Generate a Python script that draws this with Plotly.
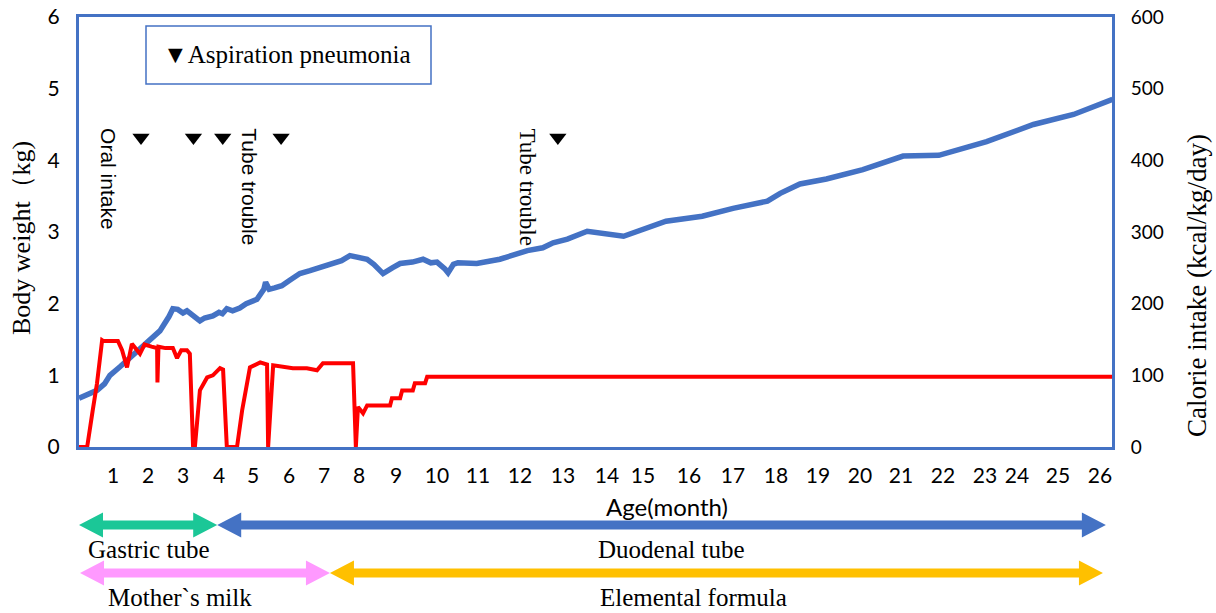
import numpy as np
import plotly.graph_objects as go

# ---------------- data ----------------
# x-axis month ticks and their (non-uniform) positions along the axis
tick_months = [0, 1, 2, 3, 4, 5, 6, 7, 8, 9, 10, 11, 12, 13, 14, 15, 16, 17, 18, 19, 20, 21, 22, 23, 24, 25, 26]
tick_axis_pos = [0, 34, 69, 104, 140, 174, 210, 245, 280, 317, 358, 399, 441, 484, 528, 564,
                 610, 654, 697, 739, 781, 822, 864, 906, 938, 979, 1021]
axis_len = 1033

# body weight (kg) vs age (months)
weight_age = [0.0, 0.2, 0.53, 0.75, 0.91, 1.2, 1.41, 1.7, 1.97, 2.34, 2.6, 2.71, 2.85, 3.0, 3.11, 3.25,
              3.47, 3.6, 3.83, 4.0, 4.1, 4.23, 4.4, 4.61, 4.8, 5.11, 5.3, 5.35, 5.45, 5.6, 5.8, 6.0,
              6.31, 6.6, 6.87, 7.2, 7.5, 7.74, 8.0, 8.22, 8.4, 8.65, 8.9, 9.1, 9.4, 9.66, 9.85,
              10.0, 10.2, 10.27, 10.4, 10.51, 10.97, 11.52, 12.17, 12.53, 12.77, 13.1, 13.55,
              14.46, 15.5, 16.3, 17.0, 17.8, 18.1, 18.57, 19.2, 20.07, 21.05, 21.9, 23.05,
              24.4, 25.37, 26.3]
weight_kg = [0.68, 0.72, 0.79, 0.88, 1.0, 1.12, 1.21, 1.33, 1.44, 1.62, 1.82, 1.93, 1.92, 1.87, 1.9, 1.84,
             1.76, 1.8, 1.83, 1.88, 1.86, 1.93, 1.9, 1.94, 2.0, 2.06, 2.2, 2.3, 2.2, 2.22, 2.25, 2.32,
             2.42, 2.46, 2.5, 2.55, 2.6, 2.67, 2.64, 2.62, 2.55, 2.42, 2.5, 2.56, 2.58, 2.62, 2.57,
             2.58, 2.48, 2.43, 2.55, 2.57, 2.56, 2.62, 2.74, 2.78, 2.85, 2.9, 3.01,
             2.94, 3.15, 3.22, 3.33, 3.43, 3.54, 3.67, 3.74, 3.87, 4.06, 4.07, 4.26,
             4.5, 4.64, 4.85]

# calorie intake (kcal/kg/day) vs age (months)
cal_age = [0.0, 0.24, 0.4, 0.53, 0.68, 0.71, 1.14, 1.26, 1.4, 1.54, 1.77, 1.9, 2.1, 2.26, 2.27, 2.3,
           2.5, 2.71, 2.83, 2.95, 3.11, 3.19, 3.28, 3.33, 3.47, 3.67, 3.83, 4.03, 4.12, 4.23, 4.53,
           4.68, 4.91, 5.2, 5.39, 5.42, 5.56, 6.11, 6.51, 6.8, 6.97, 7.83, 7.91, 7.97, 8.11, 8.22,
           8.84, 8.89, 9.1, 9.15, 9.41, 9.46, 9.71, 9.76, 26.3]
cal_kcal = [0, 0, 50, 89, 149, 148, 148, 135, 111, 144, 130, 143, 140, 138, 90, 140,
            138, 138, 124, 135, 135, 130, 0, 0, 79, 97, 100, 110, 108, 0, 0,
            51, 111, 118, 115, 0, 114, 110, 110, 107, 117, 117, 0, 56, 47, 58,
            58, 68, 68, 79, 79, 89, 89, 98, 98]

# aspiration pneumonia events
pneumonia_age = [1.8, 3.29, 4.11, 5.78, 12.88]
pneumonia_level_kg = 4.32

# event notes
note_text = ["Oral intake", "Tube trouble", "Tube trouble"]
note_age = [0.85, 4.9, 12.17]
note_kg = [3.74, 3.63, 3.63]

# feeding periods (start month, end month)
route_names = ["Gastric tube", "Duodenal tube"]
route_start = [0.0, 3.95]
route_end = [3.95, 26.14]
route_label_age = [2.0, 15.6]
food_names = ["Mother`s milk", "Elemental formula"]
food_start = [0.03, 7.17]
food_end = [7.17, 26.07]
food_label_age = [2.9, 16.1]

left_ticks = [0, 1, 2, 3, 4, 5, 6]
right_ticks = [0, 100, 200, 300, 400, 500, 600]

# ---------------- helpers ----------------
def to_pos(m):
    m = np.atleast_1d(np.asarray(m, dtype=float))
    p = np.interp(m, tick_months, tick_axis_pos)
    slope = tick_axis_pos[-1] - tick_axis_pos[-2]
    over = m > tick_months[-1]
    p[over] = tick_axis_pos[-1] + (m[over] - tick_months[-1]) * slope
    return p

BLUE = "#4472C4"
RED = "#FF0000"
SERIF = "Liberation Serif, Times New Roman, serif"
SANS = "Lato, Open Sans, sans-serif"
ARIAL = "Liberation Sans, Arial, sans-serif"

W, H = 1216, 613
ML, MR, MT, MB = 79, 104, 17, 166
PW, PH = W - ML - MR, H - MT - MB

def px_to_paper_x(px):
    return (px - ML) / PW

def px_to_paper_y(py):
    return (H - MB - py) / PH

fig = go.Figure()

fig.add_trace(go.Scatter(
    x=to_pos(weight_age), y=weight_kg, mode="lines",
    line=dict(color=BLUE, width=5.5), yaxis="y", showlegend=False, name="Body weight"))

fig.add_trace(go.Scatter(
    x=to_pos(cal_age), y=cal_kcal, mode="lines",
    line=dict(color=RED, width=4), yaxis="y2", showlegend=False, name="Calorie intake",
    cliponaxis=False))

fig.add_trace(go.Scatter(
    x=to_pos(pneumonia_age), y=[pneumonia_level_kg] * len(pneumonia_age), mode="markers",
    marker=dict(symbol="triangle-down", size=15, color="black"), yaxis="y", showlegend=False,
    name="Aspiration pneumonia"))

annotations = []
shapes = []

# notes (vertical text)
note_fonts = [ARIAL, ARIAL, SERIF]
note_sizes = [21, 21, 23]
for t, a, k, f, s in zip(note_text, note_age, note_kg, note_fonts, note_sizes):
    annotations.append(dict(x=float(to_pos(a)[0]), y=k, xref="x", yref="y", text=t, textangle=90,
                            showarrow=False, font=dict(family=f, size=s, color="black"),
                            xanchor="center", yanchor="middle"))

# legend box
shapes.append(dict(type="rect", xref="paper", yref="paper",
                   x0=px_to_paper_x(146), x1=px_to_paper_x(431),
                   y0=px_to_paper_y(84), y1=px_to_paper_y(26),
                   line=dict(color=BLUE, width=1.5), fillcolor="white", layer="above"))
annotations.append(dict(x=px_to_paper_x(161), y=px_to_paper_y(54), xref="paper", yref="paper",
                        text="▼Aspiration pneumonia", showarrow=False, xanchor="left", yanchor="middle",
                        font=dict(family=SERIF, size=25, color="black")))

# axis titles
annotations.append(dict(x=px_to_paper_x(21), y=px_to_paper_y(238), xref="paper", yref="paper",
                        text="Body weight（kg)", textangle=-90, showarrow=False,
                        xanchor="center", yanchor="middle",
                        font=dict(family=SERIF, size=26, color="black")))
annotations.append(dict(x=px_to_paper_x(1197), y=px_to_paper_y(286), xref="paper", yref="paper",
                        text="Calorie intake (kcal/kg/day)", textangle=-90, showarrow=False,
                        xanchor="center", yanchor="middle",
                        font=dict(family=SERIF, size=27, color="black")))
annotations.append(dict(x=px_to_paper_x(667), y=px_to_paper_y(506), xref="paper", yref="paper",
                        text="Age(month)", showarrow=False, xanchor="center", yanchor="middle",
                        font=dict(family=SANS, size=24, color="black")))

# arrows
HEAD_L, HEAD_H, SHAFT_H = 24, 12.5, 4.5

def arrow_path(m0, m1, ypx):
    x0 = ML + float(to_pos(m0)[0])
    x1 = ML + float(to_pos(m1)[0])
    pts = [(x0, ypx), (x0 + HEAD_L, ypx - HEAD_H), (x0 + HEAD_L, ypx - SHAFT_H),
           (x1 - HEAD_L, ypx - SHAFT_H), (x1 - HEAD_L, ypx - HEAD_H), (x1, ypx),
           (x1 - HEAD_L, ypx + HEAD_H), (x1 - HEAD_L, ypx + SHAFT_H),
           (x0 + HEAD_L, ypx + SHAFT_H), (x0 + HEAD_L, ypx + HEAD_H)]
    d = "M " + " L ".join(f"{px_to_paper_x(x):.5f},{px_to_paper_y(y):.5f}" for x, y in pts) + " Z"
    return d

route_colors = ["#1BC797", BLUE]
food_colors = ["#FF99FF", "#FFC000"]
for s0, s1, c in zip(route_start, route_end, route_colors):
    shapes.append(dict(type="path", xref="paper", yref="paper", path=arrow_path(s0, s1, 525),
                       fillcolor=c, line=dict(width=0)))
for s0, s1, c in zip(food_start, food_end, food_colors):
    shapes.append(dict(type="path", xref="paper", yref="paper", path=arrow_path(s0, s1, 573),
                       fillcolor=c, line=dict(width=0)))

for n, a in zip(route_names, route_label_age):
    annotations.append(dict(x=px_to_paper_x(ML + float(to_pos(a)[0])), y=px_to_paper_y(549),
                            xref="paper", yref="paper", text=n, showarrow=False,
                            xanchor="center", yanchor="middle",
                            font=dict(family=SERIF, size=25, color="black")))
for n, a in zip(food_names, food_label_age):
    annotations.append(dict(x=px_to_paper_x(ML + float(to_pos(a)[0])), y=px_to_paper_y(597),
                            xref="paper", yref="paper", text=n, showarrow=False,
                            xanchor="center", yanchor="middle",
                            font=dict(family=SERIF, size=25, color="black")))

fig.update_layout(
    width=W, height=H,
    margin=dict(l=ML, r=MR, t=MT, b=MB, autoexpand=False),
    plot_bgcolor="white", paper_bgcolor="white",
    xaxis=dict(range=[0, axis_len], tickvals=list(to_pos(tick_months[1:])),
               ticktext=[str(m) for m in tick_months[1:]], automargin=False,
               showgrid=False, zeroline=False, showline=True, mirror=True,
               linecolor=BLUE, linewidth=3, ticks="", ticklabelstandoff=8,
               tickfont=dict(family=SANS, size=21, color="black")),
    yaxis=dict(range=[0, 6], tickvals=left_ticks, showgrid=False, zeroline=False, automargin=False,
               showline=True, mirror=True, linecolor=BLUE, linewidth=3, ticks="",
               ticklabeloverflow="allow",
               ticklabelstandoff=12, tickfont=dict(family=SANS, size=21, color="black")),
    yaxis2=dict(range=[0, 600], tickvals=right_ticks, overlaying="y", side="right", automargin=False,
                showgrid=False, zeroline=False, showline=True, linecolor=BLUE, linewidth=3,
                ticklabeloverflow="allow",
                ticks="", ticklabelstandoff=12, tickfont=dict(family=SANS, size=19, color="black")),
    annotations=annotations,
    shapes=shapes,
)

fig.write_html("out.html", config={"displayModeBar": False},
               post_script="document.body.style.margin='0px';document.body.style.overflow='hidden';")
